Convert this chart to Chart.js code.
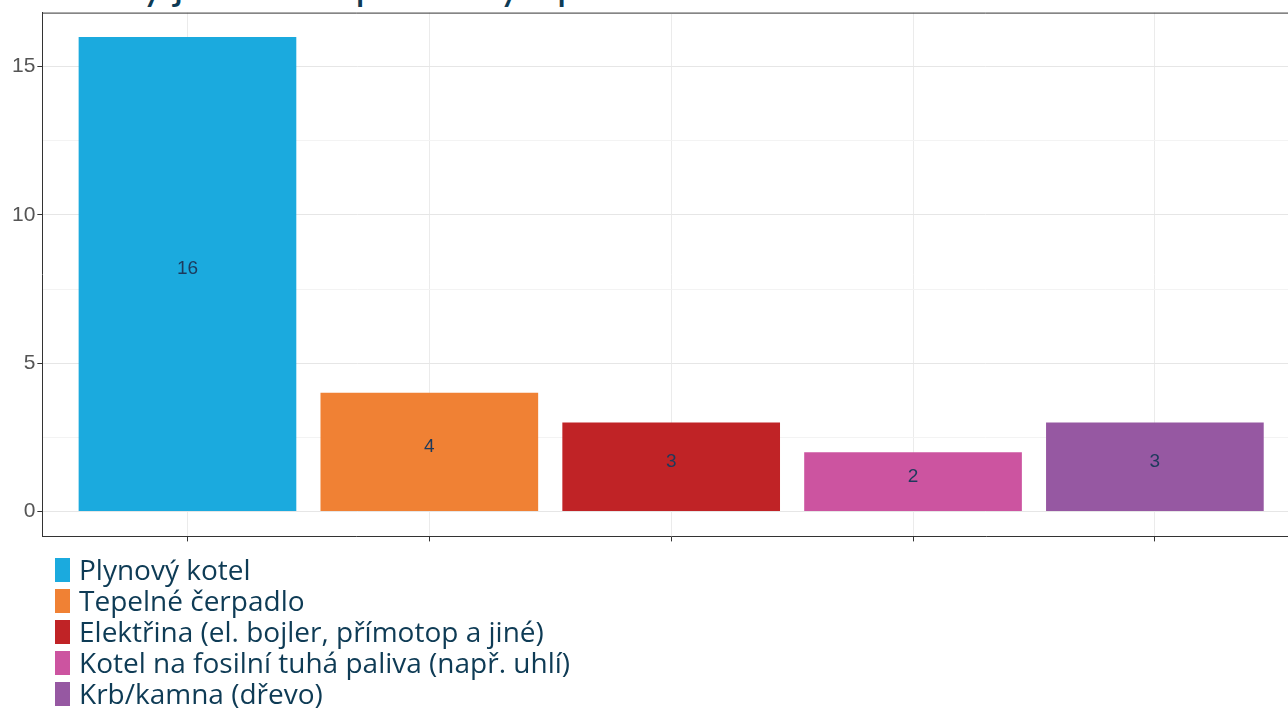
<!DOCTYPE html>
<html>
<head>
<meta charset="utf-8">
<script src="https://cdn.jsdelivr.net/npm/chart.js@4/dist/chart.umd.min.js"></script>
<style>
  html, body { margin: 0; padding: 0; background: #fff; overflow: hidden; }
  #title {
    position: absolute; left: 83px; top: -41px; margin: 0;
    font: 42px Lato, sans-serif; color: #0e3b55; white-space: nowrap;
  }
  #wrap { position: absolute; left: 0; top: -2px; width: 1302px; height: 553px; }
  #legend { position: absolute; left: 55px; top: 554px; }
  .item { display: flex; align-items: center; height: 31px; }
  .box { width: 15px; height: 24px; margin-right: 9px; }
  .lab { font: 28px "Open Sans", sans-serif; color: #0e3b55; line-height: 31px; white-space: nowrap; }
</style>
</head>
<body>
<h1 id="title">Jaký je hlavní způsob vytápění?</h1>
<div id="wrap"><canvas id="c"></canvas></div>
<div id="legend"></div>
<script>
const categories = [
  'Plynový kotel',
  'Tepelné čerpadlo',
  'Elektřina (el. bojler, přímotop a jiné)',
  'Kotel na fosilní tuhá paliva (např. uhlí)',
  'Krb/kamna (dřevo)'
];
const counts = [16, 4, 3, 2, 3];
const colors = ['#1baade', '#f08134', '#c02326', '#cc54a0', '#9658a2'];
const yTicks = [0, 2.5, 5, 7.5, 10, 12.5, 15];
const xTicks = [0, 1, 2, 3, 4];

// legend (html, from the same arrays)
const leg = document.getElementById('legend');
categories.forEach((c, i) => {
  const d = document.createElement('div');
  d.className = 'item';
  d.innerHTML = '<span class="box" style="background:' + colors[i] + '"></span><span class="lab"></span>';
  d.querySelector('.lab').textContent = c;
  leg.appendChild(d);
});

const frame = {
  id: 'frame',
  afterDraw(chart) {
    const a = chart.chartArea, ctx = chart.ctx;
    ctx.save();
    ctx.strokeStyle = '#333';
    ctx.lineWidth = 1;
    ctx.beginPath();
    ctx.moveTo(a.left, a.top + 0.5);
    ctx.lineTo(a.right, a.top + 0.5);
    ctx.stroke();
    ctx.restore();
  }
};

const barLabels = {
  id: 'barLabels',
  afterDatasetsDraw(chart) {
    const ctx = chart.ctx, y = chart.scales.y;
    const meta = chart.getDatasetMeta(0);
    ctx.save();
    ctx.font = '19px "Liberation Sans", Arial, sans-serif';
    ctx.fillStyle = '#1d3a5c';
    ctx.textAlign = 'center';
    ctx.textBaseline = 'alphabetic';
    meta.data.forEach((el, i) => {
      ctx.fillText(String(counts[i]), el.x, y.getPixelForValue(counts[i] / 2));
    });
    ctx.restore();
  }
};

new Chart(document.getElementById('c'), {
  type: 'bar',
  data: {
    datasets: [{
      data: counts.map((v, i) => ({ x: i, y: v })),
      backgroundColor: colors,
      borderWidth: 0,
      barPercentage: 0.9,
      categoryPercentage: 1
    }]
  },
  options: {
    responsive: true,
    maintainAspectRatio: false,
    animation: false,
    layout: { padding: { left: 10, top: 11, right: 2, bottom: 0 } },
    plugins: { legend: { display: false }, tooltip: { enabled: false } },
    scales: {
      x: {
        type: 'linear',
        offset: false,
        min: -0.6, max: 4.6,
        afterBuildTicks: s => { s.ticks = xTicks.map(v => ({ value: v })); },
        ticks: { callback: () => '', font: { size: 1 }, padding: 0 },
        grid: { offset: false, color: '#ebebeb', tickColor: '#333', tickLength: 5 },
        border: { color: '#333', width: 1 }
      },
      y: {
        min: -0.84, max: 16.82,
        afterBuildTicks: s => { s.ticks = yTicks.map(v => ({ value: v })); },
        ticks: {
          callback: v => (v % 5 === 0 ? String(v) : ''),
          font: { size: 21, family: '"Liberation Sans", Arial, sans-serif' },
          color: '#555', padding: 2
        },
        grid: {
          color: c => (c.tick && c.tick.value % 5 === 0 ? '#e6e6e6' : '#f3f3f3'),
          tickColor: c => (c.tick && c.tick.value % 5 === 0 ? '#333' : 'rgba(0,0,0,0)'),
          tickLength: 5
        },
        border: { color: '#333', width: 1 }
      }
    }
  },
  plugins: [frame, barLabels]
});
</script>
</body>
</html>
